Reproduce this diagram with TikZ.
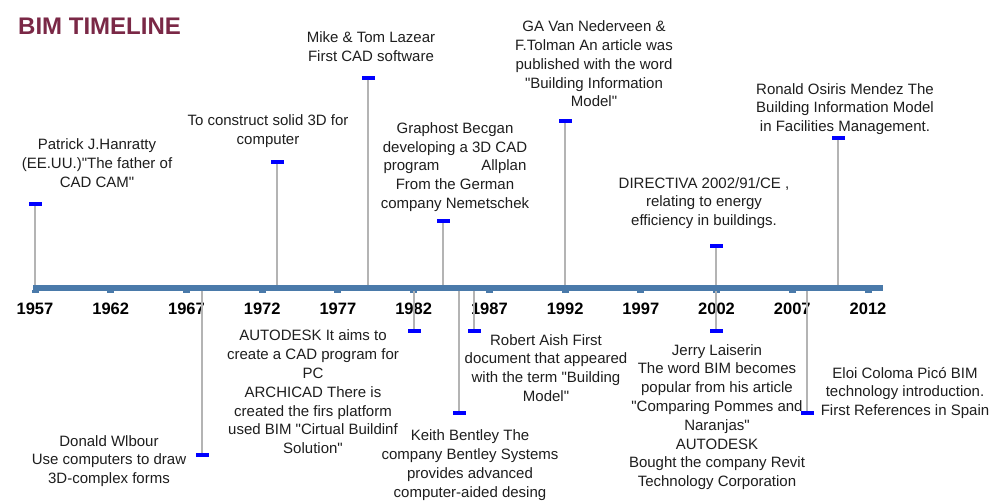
\documentclass[tikz,border=0pt]{standalone}
\usepackage{fontspec}
\setmainfont{Liberation Sans}
\newfontfamily\eventfont{Liberation Sans}
\usepackage{tikz}
\definecolor{bimred}{HTML}{7A2846}
\definecolor{axisblue}{HTML}{4A7AAA}
\definecolor{stemgray}{HTML}{B4B4B4}
\definecolor{txtgray}{HTML}{1E1E1E}

\begin{document}
\begin{tikzpicture}[x=1pt,y=-1pt]
\tikzset{every node/.style={inner sep=0pt}}
\tikzset{event/.style={align=center,text=txtgray,font=\eventfont\fontsize{15}{18.8}\selectfont}}
\tikzset{bluedash/.style={fill=blue,minimum width=13pt,minimum height=4pt}}
\tikzset{stem/.style={draw=stemgray,line width=2pt}}
\tikzset{yearlabel/.style={font=\fontsize{16.5}{18}\selectfont\bfseries}}
\useasboundingbox (0,0) rectangle (991,502);
\shade[top color=white,middle color=black!7,bottom color=white] (7,0) rectangle (991,502);
\node[anchor=west,text=bimred,font=\fontsize{24}{28}\selectfont\bfseries] (title) at (18,26) {BIM TIMELINE};
\node[fill=axisblue,minimum width=850pt,minimum height=6pt] (axis) at (458,288) {};
\foreach \yr [count=\i from 0] in {1957,1962,...,2012} {
  \node[fill=axisblue,minimum width=7pt,minimum height=3pt,anchor=north] (tick\yr) at ({35+75.73*\i},290) {};
  \node[yearlabel] (year\yr) at ({35+75.73*\i},309) {\yr};
}
\node[bluedash] (mHanratty) at (35,204) {};
\node[event] (tHanratty) at (97,163) {Patrick J.Hanratty\\(EE.UU.)"The father of\\CAD CAM"};
\draw[stem] (mHanratty) -- (mHanratty |- axis.north);
\node[bluedash] (mSolid) at (277,162) {};
\node[event] (tSolid) at (268,131) {To construct solid 3D for\\computer};
\draw[stem] (mSolid) -- (mSolid |- axis.north);
\node[bluedash] (mLazear) at (368,78) {};
\node[event] (tLazear) at (371,47) {Mike \& Tom Lazear\\First CAD software};
\draw[stem] (mLazear) -- (mLazear |- axis.north);
\node[bluedash] (mGraphost) at (443,221) {};
\node[event] (tGraphost) at (455,167) {Graphost Becgan\\developing a 3D CAD\\program\hspace{42pt}Allplan\\From the German\\company Nemetschek};
\draw[stem] (mGraphost) -- (mGraphost |- axis.north);
\node[bluedash] (mNederveen) at (565,121) {};
\node[event] (tNederveen) at (594,64) {GA Van Nederveen \&\\F.Tolman An article was\\published with the word\\"Building Information\\Model"};
\draw[stem] (mNederveen) -- (mNederveen |- axis.north);
\node[bluedash] (mDirectiva) at (716,246) {};
\node[event] (tDirectiva) at (704,203) {DIRECTIVA 2002/91/CE ,\\relating to energy\\efficiency in buildings.};
\draw[stem] (mDirectiva) -- (mDirectiva |- axis.north);
\node[bluedash] (mMendez) at (838,138) {};
\node[event] (tMendez) at (845,109) {Ronald Osiris Mendez The\\Building Information Model\\in Facilities Management.};
\draw[stem] (mMendez) -- (mMendez |- axis.north);
\node[bluedash] (mWlbour) at (202,455) {};
\node[event] (tWlbour) at (109,461) {Donald Wlbour\\Use computers to draw\\3D-complex forms};
\draw[stem] (mWlbour) -- (mWlbour |- axis.south);
\node[bluedash] (mAutodesk) at (414,331) {};
\node[event] (tAutodesk) at (313,392) {AUTODESK It aims to\\create a CAD program for\\PC\\ARCHICAD There is\\created the firs platform\\used BIM "Cirtual Buildinf\\Solution"};
\draw[stem] (mAutodesk) -- (mAutodesk |- axis.south);
\node[bluedash] (mAish) at (474,331) {};
\node[event] (tAish) at (546,368) {Robert Aish First\\document that appeared\\with the term "Building\\Model"};
\draw[stem] (mAish) -- (mAish |- axis.south);
\node[bluedash] (mBentley) at (459,413) {};
\node[event] (tBentley) at (470,465) {Keith Bentley The\\company Bentley Systems\\provides advanced\\computer-aided desing};
\draw[stem] (mBentley) -- (mBentley |- axis.south);
\node[bluedash] (mLaiserin) at (716,331) {};
\node[event] (tLaiserin) at (717,417) {Jerry Laiserin\\The word BIM becomes\\popular from his article\\"Comparing Pommes and\\Naranjas"\\AUTODESK\\Bought the company Revit\\Technology Corporation};
\draw[stem] (mLaiserin) -- (mLaiserin |- axis.south);
\node[bluedash] (mColoma) at (807,413) {};
\node[event] (tColoma) at (905,393) {Eloi Coloma Picó BIM\\technology introduction.\\First References in Spain};
\draw[stem] (mColoma) -- (mColoma |- axis.south);
\end{tikzpicture}
\end{document}
